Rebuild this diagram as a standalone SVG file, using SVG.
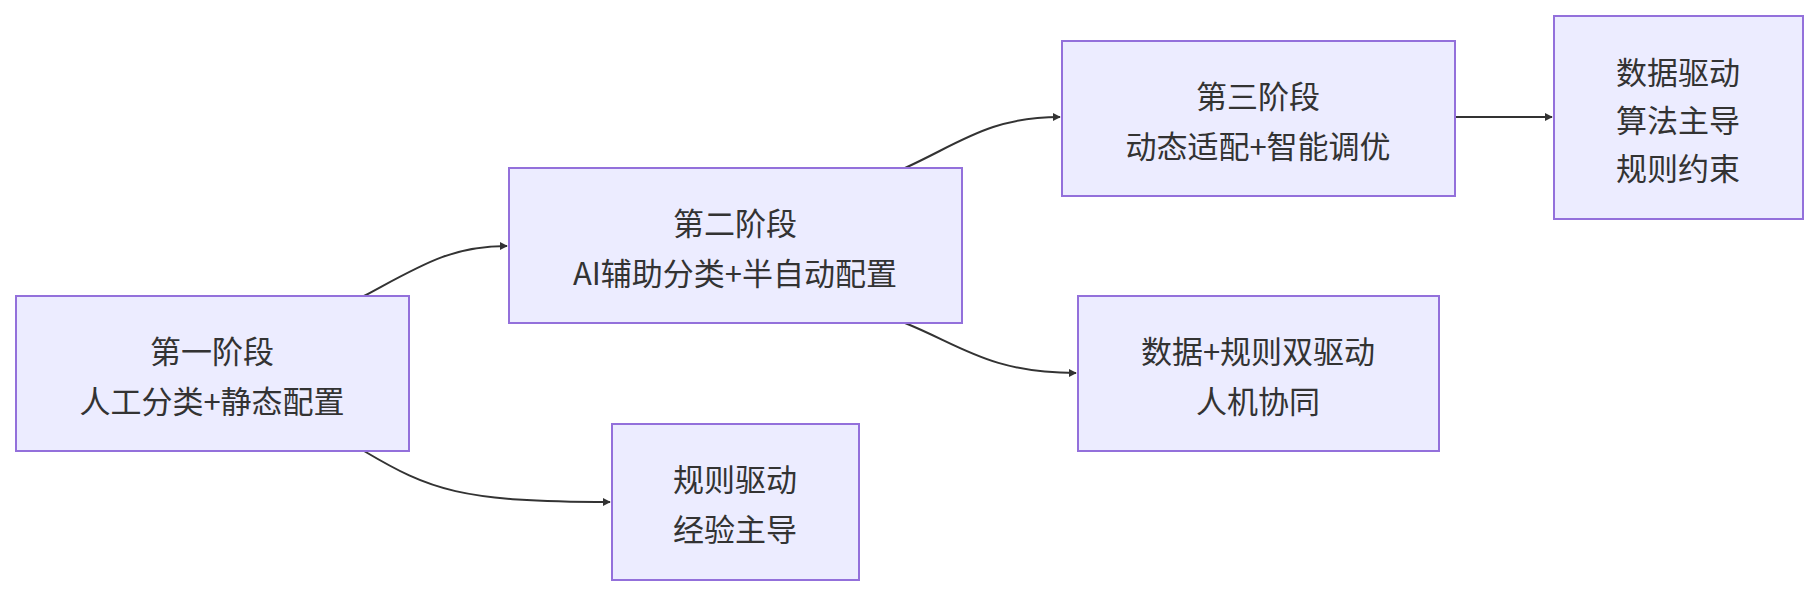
<svg xmlns="http://www.w3.org/2000/svg" width="1818" height="596" viewBox="0 0 1818 596">
<style>
.n rect{fill:#ECECFF;stroke:#9370DB;stroke-width:2}
.n text{font-family:"Noto Sans CJK SC","Noto Sans",sans-serif;font-size:31px;fill:#333;text-anchor:middle;dominant-baseline:central}
.e path{fill:none;stroke:#333;stroke-width:2;marker-end:url(#ah)}
</style>
<defs><marker id="ah" viewBox="0 0 10 10" refX="9" refY="5" markerWidth="8" markerHeight="8" orient="auto" markerUnits="userSpaceOnUse"><path d="M0,0L10,5L0,10z" fill="#333" transform="scale(1)"/></marker></defs>
<rect width="1818" height="596" fill="#fff"/>
<g class="e">
<path d="M364,296 C420,266 450,246 507,246"/>
<path d="M364,451 C430,490 460,502 610,502"/>
<path d="M905,168 C960,143 990,117 1060,117"/>
<path d="M905,323 C960,345 990,373 1076,373"/>
<path d="M1455,117 L1552,117"/>
</g>
<g id="A" class="n"><rect x="16" y="296" width="393" height="155"/><text x="212" y="349">第一阶段</text><text x="212" y="399">人工分类+静态配置</text></g>
<g id="B" class="n"><rect x="509" y="168" width="453" height="155"/><text x="735" y="221">第二阶段</text><text x="735" y="271">AI辅助分类+半自动配置</text></g>
<g id="C" class="n"><rect x="1062" y="41" width="393" height="155"/><text x="1258" y="94">第三阶段</text><text x="1258" y="144">动态适配+智能调优</text></g>
<g id="D" class="n"><rect x="1554" y="16" width="249" height="203"/><text x="1678" y="70">数据驱动</text><text x="1678" y="118">算法主导</text><text x="1678" y="166">规则约束</text></g>
<g id="E" class="n"><rect x="1078" y="296" width="361" height="155"/><text x="1258" y="349">数据+规则双驱动</text><text x="1258" y="399">人机协同</text></g>
<g id="F" class="n"><rect x="612" y="424" width="247" height="156"/><text x="735" y="477">规则驱动</text><text x="735" y="527">经验主导</text></g>
</svg>
